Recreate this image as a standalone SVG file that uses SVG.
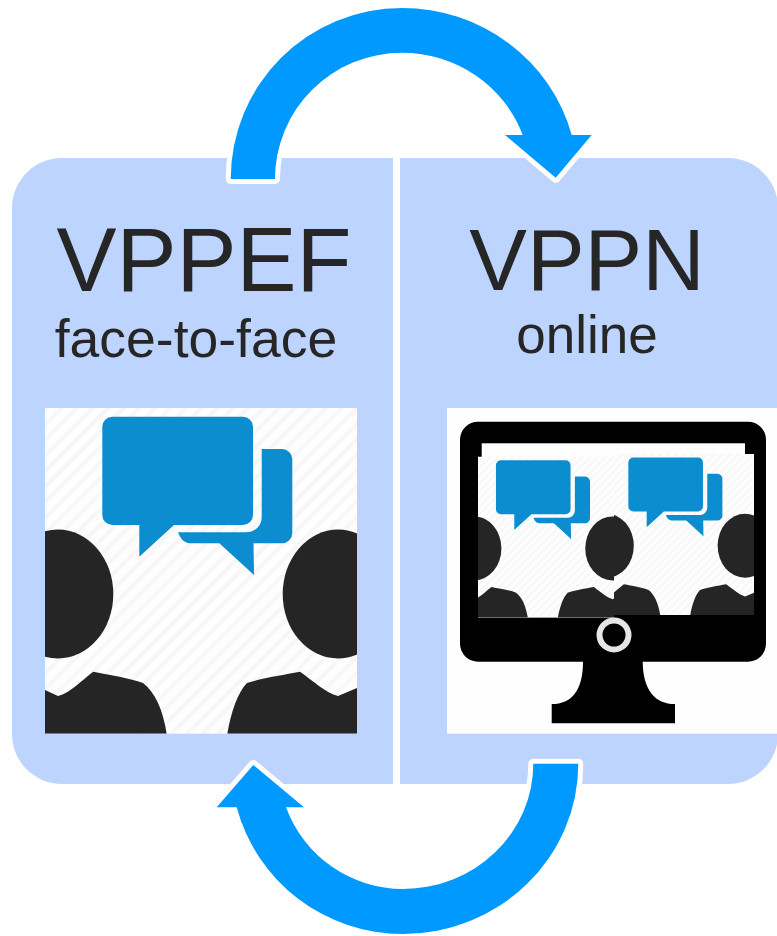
<svg xmlns="http://www.w3.org/2000/svg" width="777" height="936" viewBox="0 0 777 936">
<style>
.panel{fill:#bdd4ff}
.arrow{fill:#0099ff;stroke:#fff;stroke-width:10;stroke-linejoin:round;paint-order:stroke fill}
.title{font-family:"Liberation Sans",Arial,sans-serif;fill:#262626;text-anchor:middle}
.person{fill:#252525}
.bubble{fill:#0c8dd0}
.hatch{stroke:#f7f7f7;stroke-width:4}
</style>
<defs>
<pattern id="stripes" width="11" height="11" patternUnits="userSpaceOnUse" patternTransform="rotate(-45)">
<rect width="11" height="11" fill="#fefefe"/>
<line x1="0" y1="2" x2="11" y2="2" class="hatch"/>
</pattern>
<clipPath id="imgClip"><rect x="45" y="408" width="312" height="325.7"/></clipPath>
<clipPath id="leftCopy"><rect x="478" y="456.7" width="136" height="161"/></clipPath>
<clipPath id="rightCopy"><rect x="614" y="454" width="140" height="161"/></clipPath>
<g id="meeting">
<rect x="45" y="408" width="312" height="325.7" fill="url(#stripes)"/>
<g clip-path="url(#imgClip)">
<path class="bubble" d="M112.300 416.700H243A10 10 0 0 1 253 426.700V515A10 10 0 0 1 243 525H174L139.300 556.700V525H112.300A10 10 0 0 1 102.300 515V426.700A10 10 0 0 1 112.300 416.700Z"/>
<path class="bubble" d="M261.700 449H282A10.300 10.300 0 0 1 292.300 459.300V533A10.300 10.300 0 0 1 282 543.300H253.500L254 575L219.300 543.300H190C184 543.300 180 538 178 532.300H246C255 532.300 261.700 526 261.700 517Z"/>
<ellipse class="person" cx="58" cy="594" rx="55.300" ry="64.500"/>
<ellipse class="person" cx="338" cy="594" rx="55.300" ry="64.500"/>
<path class="person" d="M45 690L58 696C70 693 82 680 93.300 671.700C110 675 130 678 143 683C155 692 163 710 166.700 733.700H45Z"/>
<path class="person" d="M357 688L338 696C326 693 312 680 300 671.700C283 675 262 678 247 683C238 692 231 712 227.300 733.700H357Z"/>
</g>
</g>
</defs>
<g id="panel-vppef">
<path class="panel" d="M393 158H62A50 50 0 0 0 12 208V734A50 50 0 0 0 62 784H393Z"/>
<text class="title" x="204" y="291" font-size="90">VPPEF</text>
<text class="title" x="196" y="357" font-size="53.500">face-to-face</text>
<use href="#meeting"/>
</g>
<g id="panel-vppn">
<path class="panel" d="M400 158H728A50 50 0 0 1 778 208V734A50 50 0 0 1 728 784H400Z"/>
<text class="title" x="587" y="290" font-size="86.500">VPPN</text>
<text class="title" x="587" y="353" font-size="53">online</text>
<rect x="447" y="408" width="330" height="325.700" fill="#fefefe"/>
<path d="M478 421.700H748A18 18 0 0 1 766 439.700V643.700A18 18 0 0 1 748 661.700H642.700C643 690 655 704 675 704V723.300H551.700V704C572 704 583 690 583 661.700H478A18 18 0 0 1 460 643.700V439.700A18 18 0 0 1 478 421.700Z" fill="#000"/>
<rect x="481.700" y="443.300" width="263.300" height="20" fill="#fefefe"/>
<g clip-path="url(#leftCopy)"><use href="#meeting" transform="translate(467.600 456) scale(.495 .497) translate(-45 -408)"/></g>
<g clip-path="url(#rightCopy)"><use href="#meeting" transform="translate(600 453.300) scale(.495 .497) translate(-45 -408)"/></g>
<circle cx="614" cy="635" r="14.500" fill="none" stroke="#e6e6e6" stroke-width="6"/>
</g>
<g id="connectors">
<path class="arrow" d="M230.700 179A171.300 171 0 0 1 402 8A175.500 171 0 0 1 571.700 135H591.700L555.700 177.700L505 135H522.700A128.800 126.300 0 0 0 402 52.700A127 126.300 0 0 0 275 179Z"/>
<path class="arrow" d="M578.300 763.700A175.300 170.300 0 0 1 403 934A172 170.300 0 0 1 236.700 807.300H216.700L253.300 765L304 807.300H286A124.800 125.300 0 0 0 403 889A130.300 125.300 0 0 0 533.300 763.700Z"/>
</g>
</svg>
